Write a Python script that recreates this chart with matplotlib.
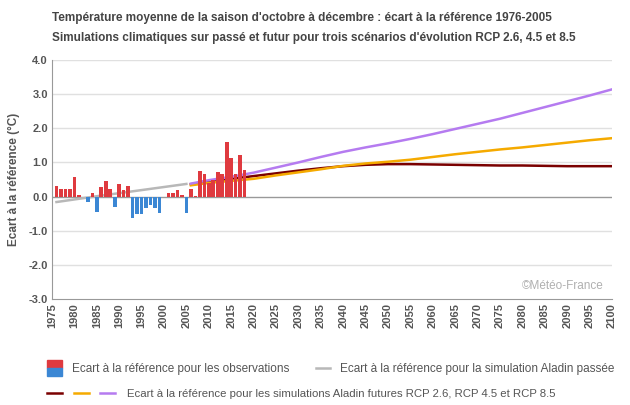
import numpy as np
import matplotlib
matplotlib.use("Agg")
from matplotlib import pyplot as plt
from matplotlib.patches import Rectangle
from matplotlib.lines import Line2D

plt.rcParams['font.family'] = ['Liberation Sans', 'DejaVu Sans']

# observed anomalies 1976-2018
obs_years = list(range(1976, 2019))
obs_values = [0.30, 0.21, 0.21, 0.21, 0.56, 0.06, 0.00, -0.17, 0.09, -0.46,
              0.29, 0.47, 0.23, -0.31, 0.38, 0.18, 0.32, -0.64, -0.52, -0.52,
              -0.34, -0.25, -0.34, -0.49, 0.00, 0.09, 0.09, 0.18, 0.06, -0.49,
              0.23, 0.03, 0.76, 0.65, 0.41, 0.50, 0.73, 0.67, 1.61, 1.14,
              0.65, 1.23, 0.79]

# Aladin past simulation
past_years = [1976, 1985, 1995, 2005]
past_values = [-0.16, 0.01, 0.19, 0.37]

# Aladin future simulations
fut_years = [2006, 2010, 2015, 2020, 2025, 2030, 2035, 2040, 2045, 2050, 2055,
             2060, 2065, 2070, 2075, 2080, 2085, 2090, 2095, 2100]
rcp26 = [0.36, 0.44, 0.52, 0.60, 0.68, 0.76, 0.83, 0.89, 0.93, 0.95, 0.95,
         0.94, 0.93, 0.92, 0.91, 0.91, 0.90, 0.89, 0.89, 0.89]
rcp45 = [0.33, 0.40, 0.46, 0.52, 0.62, 0.71, 0.80, 0.90, 0.97, 1.02, 1.08,
         1.16, 1.24, 1.31, 1.38, 1.44, 1.51, 1.58, 1.65, 1.71]
rcp85 = [0.38, 0.48, 0.58, 0.70, 0.85, 1.00, 1.16, 1.31, 1.44, 1.56, 1.69,
         1.83, 1.98, 2.13, 2.28, 2.45, 2.62, 2.79, 2.96, 3.14]

x_ticks = list(range(1975, 2101, 5))
y_ticks = [-3, -2, -1, 0, 1, 2, 3, 4]

red = '#df3a3f'
blue = '#3b87d4'
grey_line = '#b8b8b8'
c26 = '#7a0000'
c45 = '#f5aa00'
c85 = '#b57bf0'
txt = '#555555'

fig = plt.figure(figsize=(6.3, 4.05), dpi=100)
ax = fig.add_axes([52/630, 1-299/405, 560/630, 239/405])

obs = np.array(obs_values)
cols = [red if v >= 0 else blue for v in obs]
ax.bar(obs_years, obs, width=0.8, color=cols, zorder=4)

ax.plot(past_years, past_values, color=grey_line, lw=1.8, zorder=3)
ax.plot(fut_years, rcp26, color=c26, lw=1.8, zorder=3)
ax.plot(fut_years, rcp45, color=c45, lw=1.8, zorder=3)
ax.plot(fut_years, rcp85, color=c85, lw=1.8, zorder=3)

ax.set_xlim(1975, 2100)
ax.set_ylim(-3, 4)
ax.set_yticks(y_ticks)
ax.set_yticklabels(['%.1f' % v for v in y_ticks], fontsize=8, fontweight='bold', color=txt)
ax.set_xticks(x_ticks)
ax.set_xticklabels([str(v) for v in x_ticks], rotation=90, fontsize=8,
                   fontweight='bold', color=txt)
ax.tick_params(length=0, pad=3)
for y in y_ticks:
    if y in (0, -3):
        continue
    ax.axhline(y, color='#e0e0e0', lw=1, zorder=1)
ax.axhline(0, color='#999999', lw=1, zorder=2)
for s in ['top', 'right']:
    ax.spines[s].set_visible(False)
ax.spines['left'].set_color('#999999')
ax.spines['bottom'].set_color('#999999')
ax.set_ylabel('Ecart à la référence (°C)', fontsize=8.5, fontweight='bold', color=txt, labelpad=6)

ax.text(0.985, 0.03, '©Météo-France', transform=ax.transAxes, ha='right', va='bottom',
        fontsize=8.5, color='#b0b0b0')

fig.text(52/630, 1-18/405, "Température moyenne de la saison d'octobre à décembre : écart à la référence 1976-2005",
         fontsize=8.5, fontweight='bold', color='#444444', va='center')
fig.text(52/630, 1-38/405, "Simulations climatiques sur passé et futur pour trois scénarios d'évolution RCP 2.6, 4.5 et 8.5",
         fontsize=8.5, fontweight='bold', color='#444444', va='center')

# legend
W, H = 630, 405
fig.add_artist(Rectangle((47/W, 1-368/H), 15/W, 8/H, transform=fig.transFigure, color=red))
fig.add_artist(Rectangle((47/W, 1-376/H), 15/W, 8/H, transform=fig.transFigure, color=blue))
fig.text(72/W, 1-369/H, 'Ecart à la référence pour les observations', fontsize=8.5, color=txt, va='center')
fig.add_artist(Line2D([316/W, 330/W], [1-368/H, 1-368/H], transform=fig.transFigure, color=grey_line, lw=1.8))
fig.text(340/W, 1-369/H, 'Ecart à la référence pour la simulation Aladin passée', fontsize=8.5, color=txt, va='center')
for x0, c in [(47, c26), (74, c45), (100, c85)]:
    fig.add_artist(Line2D([x0/W, (x0+15)/W], [1-393/H, 1-393/H], transform=fig.transFigure, color=c, lw=1.8))
fig.text(127/W, 1-394/H, 'Ecart à la référence pour les simulations Aladin futures RCP 2.6, RCP 4.5 et RCP 8.5',
         fontsize=8.2, color=txt, va='center')

fig.savefig('out.png', dpi=100)
